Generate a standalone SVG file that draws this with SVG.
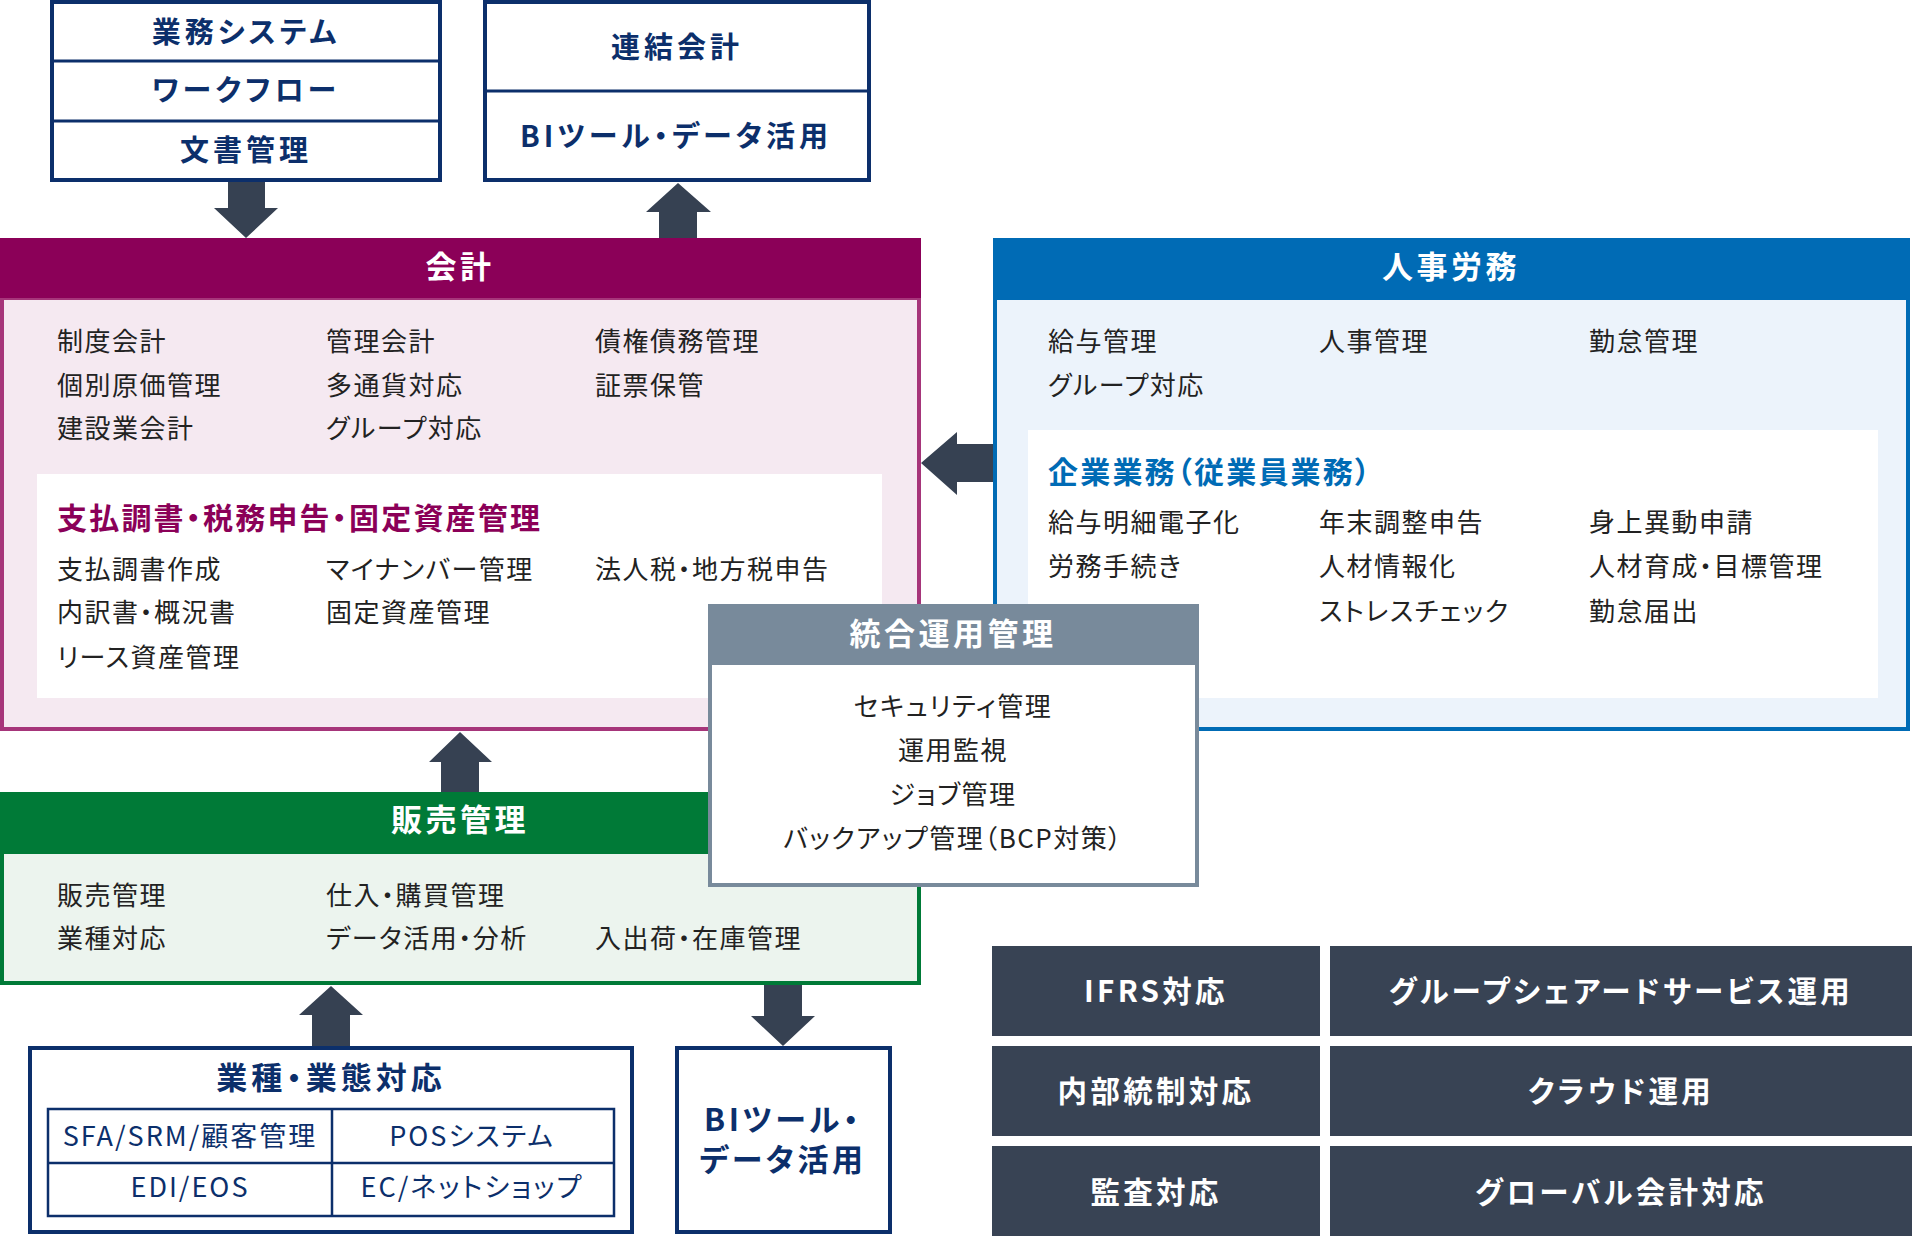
<svg xmlns="http://www.w3.org/2000/svg" width="1912" height="1236" viewBox="0 0 1912 1236">
<style>
text{font-family:"Noto Sans CJK JP","Noto Sans",sans-serif;font-feature-settings:"palt"}
.nv{fill:#0c2f6b;font-weight:700;font-size:29px;letter-spacing:4px;text-anchor:middle}
.nvbox{fill:#fff;stroke:#0c2f6b;stroke-width:4}
.nvl{stroke:#0c2f6b;stroke-width:3}
.hd{fill:#fff;font-weight:700;font-size:31px;letter-spacing:3.5px;text-anchor:middle}
.it{fill:#222;font-size:26px;letter-spacing:1.5px}
.itc{fill:#222;font-size:26px;letter-spacing:1.5px;text-anchor:middle}
.ttl{font-weight:700;font-size:30px;letter-spacing:2.2px}
.cell{fill:#0c2f6b;font-size:27px;letter-spacing:2px;text-anchor:middle}
.dk{fill:#384354}
.dkt{fill:#fff;font-weight:700;font-size:29.5px;letter-spacing:3.3px;text-anchor:middle}
.arr{fill:#364152}
</style>

<g id="gyomu-system">
<rect class="nvbox" x="52" y="2" width="388" height="178"/>
<line class="nvl" x1="52" y1="61" x2="440" y2="61"/>
<line class="nvl" x1="52" y1="121" x2="440" y2="121"/>
<text class="nv" x="246" y="43">業務システム</text>
<text class="nv" x="246" y="101">ワークフロー</text>
<text class="nv" x="246" y="161">文書管理</text>
</g>

<g id="renketsu">
<rect class="nvbox" x="485" y="2" width="384" height="178"/>
<line class="nvl" x1="485" y1="91" x2="869" y2="91"/>
<text class="nv" x="677" y="58">連結会計</text>
<text class="nv" x="676" y="147">BIツール・データ活用</text>
</g>

<g id="kaikei">
<rect x="2" y="298" width="917" height="431" fill="#f5e9f1" stroke="#a6357a" stroke-width="4"/>
<rect x="0" y="238" width="921" height="60" fill="#8b0058"/>
<text class="hd" x="460" y="278">会計</text>
<text class="it" x="57" y="351">制度会計</text>
<text class="it" x="326" y="351">管理会計</text>
<text class="it" x="595" y="351">債権債務管理</text>
<text class="it" x="57" y="395">個別原価管理</text>
<text class="it" x="326" y="395">多通貨対応</text>
<text class="it" x="595" y="395">証票保管</text>
<text class="it" x="57" y="438">建設業会計</text>
<text class="it" x="326" y="438">グループ対応</text>
<rect x="37" y="474" width="845" height="224" fill="#fff"/>
<text class="ttl" x="57" y="529" fill="#8b0058">支払調書・税務申告・固定資産管理</text>
<text class="it" x="57" y="579">支払調書作成</text>
<text class="it" x="326" y="579">マイナンバー管理</text>
<text class="it" x="595" y="579">法人税・地方税申告</text>
<text class="it" x="57" y="622">内訳書・概況書</text>
<text class="it" x="326" y="622">固定資産管理</text>
<text class="it" x="57" y="667">リース資産管理</text>
</g>

<g id="jinji">
<rect x="995" y="298" width="913" height="431" fill="#ecf3fb" stroke="#006bb5" stroke-width="4"/>
<rect x="993" y="238" width="917" height="60" fill="#006bb5"/>
<text class="hd" x="1451" y="278">人事労務</text>
<text class="it" x="1048" y="351">給与管理</text>
<text class="it" x="1319" y="351">人事管理</text>
<text class="it" x="1589" y="351">勤怠管理</text>
<text class="it" x="1048" y="395">グループ対応</text>
<rect x="1028" y="430" width="850" height="268" fill="#fff"/>
<text class="ttl" x="1048" y="483" fill="#006bb5">企業業務（従業員業務）</text>
<text class="it" x="1048" y="532">給与明細電子化</text>
<text class="it" x="1319" y="532">年末調整申告</text>
<text class="it" x="1589" y="532">身上異動申請</text>
<text class="it" x="1048" y="576">労務手続き</text>
<text class="it" x="1319" y="576">人材情報化</text>
<text class="it" x="1589" y="576">人材育成・目標管理</text>
<text class="it" x="1319" y="621">ストレスチェック</text>
<text class="it" x="1589" y="621">勤怠届出</text>
</g>

<g id="hanbai">
<rect x="2" y="852" width="917" height="131" fill="#ecf4ee" stroke="#007a37" stroke-width="4"/>
<rect x="0" y="792" width="921" height="60" fill="#007a37"/>
<text class="hd" x="460" y="831">販売管理</text>
<text class="it" x="57" y="905">販売管理</text>
<text class="it" x="326" y="905">仕入・購買管理</text>
<text class="it" x="57" y="948">業種対応</text>
<text class="it" x="326" y="948">データ活用・分析</text>
<text class="it" x="595" y="948">入出荷・在庫管理</text>
</g>

<g id="tougou">
<rect x="710" y="663" width="487" height="222" fill="#fff" stroke="#788a9b" stroke-width="4"/>
<rect x="708" y="604" width="491" height="59" fill="#788a9b"/>
<text class="hd" x="953" y="645">統合運用管理</text>
<text class="itc" x="953" y="716">セキュリティ管理</text>
<text class="itc" x="953" y="760">運用監視</text>
<text class="itc" x="953" y="804">ジョブ管理</text>
<text class="itc" x="953" y="848">バックアップ管理（BCP対策）</text>
</g>

<g id="gyoshu">
<rect class="nvbox" x="30" y="1048" width="602" height="184"/>
<text class="nv" x="331" y="1089" style="font-size:31px;letter-spacing:4px">業種・業態対応</text>
<rect x="48" y="1109" width="566" height="107" fill="none" stroke="#0c2f6b" stroke-width="2.5"/>
<line x1="48" y1="1163" x2="614" y2="1163" stroke="#0c2f6b" stroke-width="2.5"/>
<line x1="332" y1="1109" x2="332" y2="1216" stroke="#0c2f6b" stroke-width="2.5"/>
<text class="cell" x="190" y="1146">SFA/SRM/顧客管理</text>
<text class="cell" x="472" y="1146">POSシステム</text>
<text class="cell" x="190" y="1197">EDI/EOS</text>
<text class="cell" x="472" y="1197">EC/ネットショップ</text>
</g>

<g id="bi-tool">
<rect class="nvbox" x="677" y="1048" width="213" height="184"/>
<text class="nv" x="783" y="1131" style="font-size:31px;letter-spacing:3.5px">BIツール・</text>
<text class="nv" x="783" y="1171" style="font-size:31px;letter-spacing:3.5px">データ活用</text>
</g>

<g id="ifrs"><rect class="dk" x="992" y="946" width="328" height="90"/><text class="dkt" x="1156" y="1002">IFRS対応</text></g>
<g id="shared-service"><rect class="dk" x="1330" y="946" width="582" height="90"/><text class="dkt" x="1621" y="1002">グループシェアードサービス運用</text></g>
<g id="naibu-tousei"><rect class="dk" x="992" y="1046" width="328" height="90"/><text class="dkt" x="1156" y="1102">内部統制対応</text></g>
<g id="cloud"><rect class="dk" x="1330" y="1046" width="582" height="90"/><text class="dkt" x="1621" y="1102">クラウド運用</text></g>
<g id="kansa"><rect class="dk" x="992" y="1146" width="328" height="90"/><text class="dkt" x="1156" y="1203">監査対応</text></g>
<g id="global"><rect class="dk" x="1330" y="1146" width="582" height="90"/><text class="dkt" x="1621" y="1203">グローバル会計対応</text></g>

<g id="connectors">
<polygon class="arr" points="228,182 265,182 265,208 278,208 246,238 214,208 228,208"/>
<polygon class="arr" points="678,183 711,212 697,212 697,238 659,238 659,212 646,212"/>
<polygon class="arr" points="921,463 957,432 957,444 993,444 993,482 957,482 957,495"/>
<polygon class="arr" points="460,732 492,762 479,762 479,792 441,792 441,762 429,762"/>
<polygon class="arr" points="331,986 363,1015 350,1015 350,1046 312,1046 312,1015 299,1015"/>
<polygon class="arr" points="764,985 802,985 802,1016 815,1016 783,1046 751,1016 764,1016"/>
</g>
</svg>
